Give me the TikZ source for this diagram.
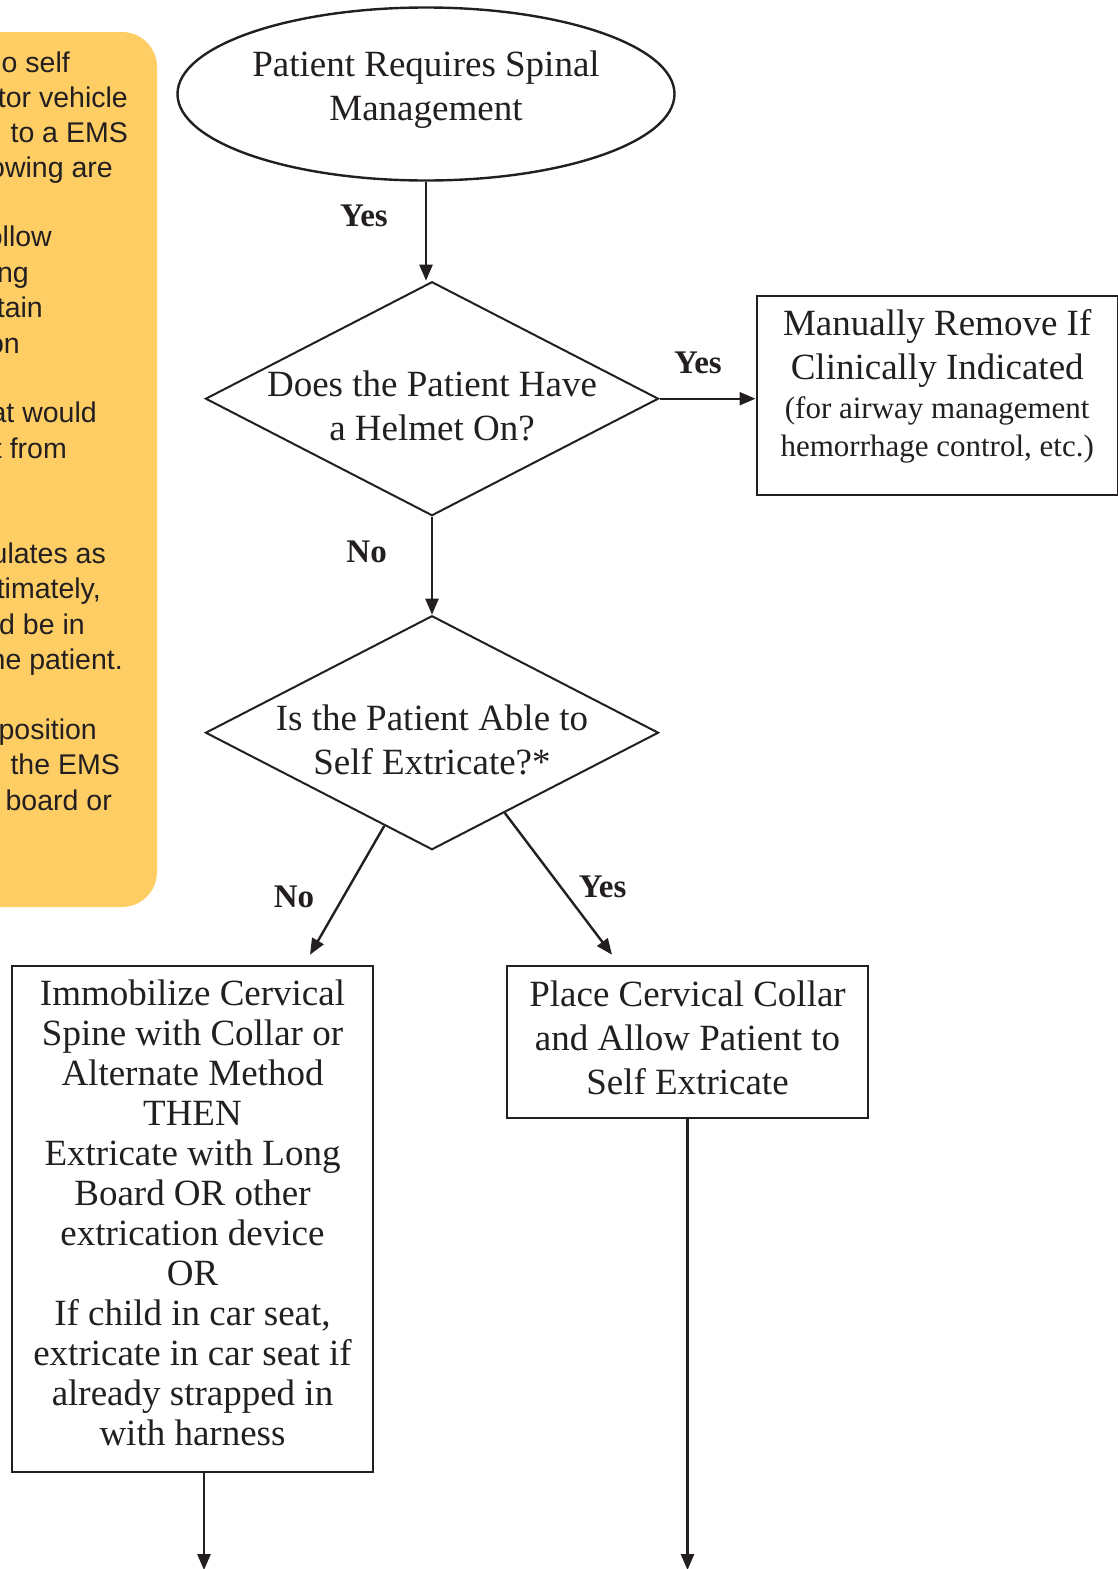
\documentclass[tikz,border=0pt]{standalone}
\usepackage{fontspec}
\setmainfont{Liberation Serif}
\setsansfont{Liberation Sans}
\usetikzlibrary{shapes.geometric, positioning, arrows.meta, calc}

\definecolor{notebg}{RGB}{254,206,101}
\definecolor{ink}{RGB}{35,31,32}
\newcommand{\bigtext}{\fontsize{37}{44}\selectfont}
\newcommand{\subtext}{\fontsize{31}{37}\selectfont}
\newcommand{\lowpad}[1]{\rule[-#1]{0pt}{0pt}}
\newcommand{\toppad}[1]{\rule{0pt}{#1}}

\begin{document}
\begin{tikzpicture}[x = 1pt, y = -1pt, line width = 2.4pt, color = ink,
    nodes = {align = center, font = \bigtext, inner sep = 0pt},
    terminal/.style = {shape = ellipse, draw, minimum width = 497pt, minimum height = 173pt},
    decision/.style = {shape = diamond, draw, aspect = 1.94, minimum width = 453pt,
    minimum height = 234pt, inner xsep = -20pt, inner ysep = -25pt, line width = 2pt},
    process/.style = {shape = rectangle, draw, minimum width = 361pt},
    answer/.style = {font = \fontsize{33}{33}\selectfont\bfseries},
    flow/.style = {-{Triangle[length = 16pt, width = 13pt]}},
    note/.style = {font = \sffamily\fontsize{28.5}{35}\selectfont, anchor = base east}]
 \clip[use as bounding box] (0,0) rectangle (1118,1569);

 \fill[notebg, rounded corners = 35pt] (-60,32) rectangle (157,907);
 \foreach \y/\x/\t in {72/71/o self, 107/129/tor vehicle, 142/129/to a EMS, 177/114/owing are,
    246/53/ollow, 282/30/ng, 317/44/tain, 353/21/on, 422/98/at would, 458/68/t from,
    563/107/ulates as, 598/102/{timately,}, 634/86/d be in, 669/124/ne patient.,
    739/98/position, 774/121/the EMS, 810/113/board or}
   \node[note] (note\y) at (\x,\y) {\t};

 \node[terminal] (start) at (426,94) {Patient Requires Spinal\\ Management\lowpad{16pt}};

 \node[decision, below = 99pt of start, xshift = 6pt] (helmet)
    {\toppad{41pt}Does the Patient Have\\ a Helmet On?};

 \node[process, minimum height = 199pt, right = 96pt of helmet, yshift = 3pt] (remove)
    {Manually Remove If\\ Clinically Indicated\\[-5pt] {\subtext (for airway management}\\[-6pt]
    {\subtext hemorrhage control, etc.)}\lowpad{26pt}};

 \node[decision, below = 98pt of helmet] (extricate)
    {\toppad{41pt}Is the Patient Able to\\ Self Extricate?*};

 \node[process, minimum height = 506pt, below = 114pt of extricate, xshift = -239.5pt,
    font = \fontsize{37}{40}\selectfont] (immobilize) {Immobilize Cervical\\ Spine with Collar or\\
    Alternate Method\\ THEN\\ Extricate with Long\\ Board OR other\\ extrication device\\ OR\\
    If child in car seat,\\ extricate in car seat if\\ already strapped in\\ with harness\lowpad{12pt}};

 \node[process, minimum height = 152pt, below = 114pt of extricate, xshift = 255.5pt] (collar)
    {Place Cervical Collar\\ and Allow Patient to\\ Self Extricate\lowpad{8pt}};

 \coordinate (noend) at ($(immobilize.north)+(117.5,-10)$);
 \coordinate (yesend) at ($(collar.north)+(-75.5,-10)$);
 \coordinate (leftout) at ($(immobilize.south)+(11.5,97)$);

 \draw[flow] (start) -- (start |- helmet.north) node[answer, pos = .35, left = 37pt] {Yes};
 \draw[flow] (helmet) -- (helmet.east -| remove.west) node[answer, pos = .4, above = 24pt] {Yes};
 \draw[flow] (helmet) -- (extricate) node[answer, pos = .36, left = 44pt] {No};
 \draw[flow] ($(extricate.south)!0.21!(extricate.west)$) -- (noend)
    node[answer, pos = .55, left = 28pt] {No};
 \draw[flow] ($(extricate.south)!0.32!(extricate.east)$) -- (yesend)
    node[answer, pos = .52, right = 17pt] {Yes};
 \draw[flow] (immobilize.south -| leftout) -- (leftout);
 \draw[flow] (collar) -- (collar.south |- leftout);
\end{tikzpicture}
\end{document}
